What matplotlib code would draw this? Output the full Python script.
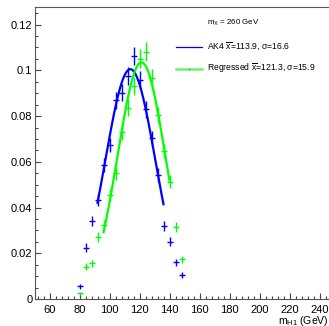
import numpy as np
import matplotlib
matplotlib.use("Agg")
import matplotlib.pyplot as plt
from matplotlib.ticker import MultipleLocator

plt.rcParams['font.family'] = ['Liberation Sans', 'DejaVu Sans']
plt.rcParams['mathtext.fontset'] = 'custom'
plt.rcParams['mathtext.rm'] = 'Liberation Sans'
plt.rcParams['mathtext.it'] = 'Liberation Sans'
plt.rcParams['mathtext.bf'] = 'Liberation Sans:bold'

# ---- data ----
bin_centers = [80, 84, 88, 92, 96, 100, 104, 108, 112, 116, 120, 124, 128, 132, 136, 140, 144, 148]
ak4_vals = [0.0055, 0.0224, 0.0341, 0.0433, 0.0585, 0.0673, 0.0869, 0.0903, 0.0974, 0.1063,
            0.0957, 0.0829, 0.0702, 0.0542, 0.0320, 0.0250, 0.0160, 0.0103]
ak4_errs = [0.0010, 0.0019, 0.0023, 0.0026, 0.0030, 0.0032, 0.0037, 0.0038, 0.0039, 0.0041,
            0.0039, 0.0036, 0.0033, 0.0029, 0.0022, 0.0020, 0.0016, 0.0013]
reg_vals = [0.0025, 0.0141, 0.0156, 0.0272, 0.0323, 0.0454, 0.0549, 0.0731, 0.0837, 0.0931,
            0.1051, 0.1081, 0.0968, 0.0804, 0.0648, 0.0513, 0.0313, 0.0173]
reg_errs = [0.0007, 0.0015, 0.0016, 0.0021, 0.0022, 0.0027, 0.0029, 0.0034, 0.0036, 0.0038,
            0.0041, 0.0042, 0.0039, 0.0035, 0.0032, 0.0028, 0.0022, 0.0016]
bin_half_width = 2.0

# Gaussian fit parameters (amplitude, mean, sigma, range)
ak4_fit = dict(amp=0.1005, mean=113.9, sigma=16.6, lo=92, hi=136)
reg_fit = dict(amp=0.1035, mean=121.3, sigma=15.9, lo=96, hi=140)

ak4_label = r"AK4 $\overline{\rm x}$=113.9, σ=16.6"
reg_label = r"Regressed $\overline{\rm x}$=121.3, σ=15.9"
mass_label = r"m$_{\rm X}$ = 260 GeV"
xlabel = r"m$_{\rm H1}$ (GeV)"

blue = '#0000ff'
green = '#00ff00'

W, H = 329, 326
fig = plt.figure(figsize=(W / 100, H / 100), dpi=100)
ax_left, ax_right, ax_top, ax_bot = 34.5, 334.5, 7, 299
ax = fig.add_axes([ax_left / W, (H - ax_bot) / H, (ax_right - ax_left) / W, (ax_bot - ax_top) / H])

def gauss(x, p):
    return p['amp'] * np.exp(-0.5 * ((x - p['mean']) / p['sigma']) ** 2)

for vals, errs, col in [(ak4_vals, ak4_errs, blue), (reg_vals, reg_errs, green)]:
    ax.errorbar(bin_centers, vals, yerr=errs, xerr=bin_half_width, fmt='none',
                ecolor=col, elinewidth=1.0, capsize=0, zorder=3)

for p, col in [(ak4_fit, blue), (reg_fit, green)]:
    xs = np.linspace(p['lo'], p['hi'], 200)
    ax.plot(xs, gauss(xs, p), color=col, lw=1.6, zorder=4)

ax.set_xlim(50, 250)
ax.set_ylim(0, 0.1277)
ax.xaxis.set_minor_locator(MultipleLocator(4))
ax.yaxis.set_minor_locator(MultipleLocator(0.005))
ax.set_xticks([60, 80, 100, 120, 140, 160, 180, 200, 220, 240])
ax.set_xticklabels(['60', '80', '100', '120', '140', '160', '180', '200', '220', '240'])
ax.set_yticks([0, 0.02, 0.04, 0.06, 0.08, 0.1, 0.12])
ax.set_yticklabels(['0', '0.02', '0.04', '0.06', '0.08', '0.1', '0.12'])
ax.tick_params(which='both', direction='in', top=False, right=False, colors='#444444',
               labelcolor='black', labelsize=8.0, width=0.8)
ax.tick_params(which='major', length=4.0)
ax.tick_params(which='minor', length=2.0)
ax.tick_params(axis='x', pad=4)
ax.tick_params(axis='y', pad=1.5)
for s in ax.spines.values():
    s.set_color('#555555')
    s.set_linewidth(0.8)

# legend (drawn manually in pixel-based figure coords)
def fx(px):
    return px / W
def fy(py):
    return 1 - py / H

fig.text(fx(207), fy(22.5), mass_label, fontsize=5.7, va='center', ha='left')
fig.add_artist(plt.Line2D([fx(176), fx(202)], [fy(47), fy(47)], color=blue, lw=0.9))
fig.text(fx(207), fy(46.5), ak4_label, fontsize=6.2, va='center', ha='left')
fig.add_artist(plt.Line2D([fx(176), fx(202)], [fy(68.5), fy(68.5)], color='#66f566', lw=1.8))
fig.add_artist(plt.Line2D([fx(189)], [fy(68.5)], color='#2a7a2a', marker='o', markersize=0.9,
                          markeredgewidth=0))
fig.text(fx(207), fy(68), reg_label, fontsize=6.2, va='center', ha='left')

fig.text(fx(328.5), fy(320.5), xlabel, fontsize=7.6, va='center', ha='right')

fig.savefig('out.png', dpi=100)
